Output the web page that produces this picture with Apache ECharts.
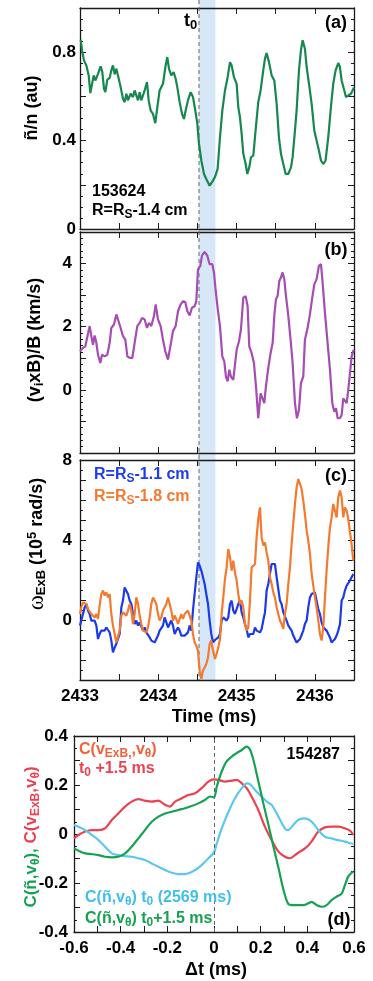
<!DOCTYPE html>
<html><head><meta charset="utf-8">
<script src="https://cdn.jsdelivr.net/npm/echarts@6/dist/echarts.min.js"></script>
<style>html,body{margin:0;padding:0;background:#fff}#c{width:373px;height:981px}</style>
</head><body><div id="c"></div>
<script>
// ---------- DATA ----------
// Panel (a): density fluctuation, shot 153624
const tA = [2433.009,2433.026,2433.051,2433.081,2433.111,2433.132,2433.153,2433.175,2433.196,2433.230,2433.264,2433.285,2433.307,2433.324,2433.349,2433.379,2433.400,2433.421,2433.443,2433.464,2433.485,2433.519,2433.549,2433.570,2433.592,2433.613,2433.647,2433.677,2433.698,2433.741,2433.762,2433.783,2433.826,2433.856,2433.877,2433.903,2433.932,2433.962,2433.988,2434.017,2434.060,2434.094,2434.115,2434.137,2434.166,2434.196,2434.222,2434.243,2434.273,2434.303,2434.328,2434.350,2434.379,2434.413,2434.443,2434.473,2434.499,2434.520,2434.550,2434.584,2434.613,2434.656,2434.699,2434.724,2434.758,2434.788,2434.818,2434.852,2434.886,2434.916,2434.937,2434.967,2435.001,2435.022,2435.043,2435.065,2435.086,2435.116,2435.137,2435.162,2435.184,2435.214,2435.243,2435.277,2435.307,2435.341,2435.363,2435.384,2435.414,2435.448,2435.482,2435.512,2435.541,2435.567,2435.597,2435.627,2435.661,2435.695,2435.716,2435.746,2435.767,2435.797,2435.822,2435.844,2435.873,2435.895,2435.925,2435.959,2435.993,2436.022,2436.052,2436.078,2436.107,2436.137,2436.171,2436.205,2436.235,2436.265,2436.299,2436.320,2436.342,2436.376,2436.397,2436.427,2436.461,2436.491,2436.500];
const nA = [0.857,0.808,0.763,0.740,0.695,0.615,0.612,0.695,0.672,0.702,0.736,0.710,0.634,0.619,0.676,0.684,0.718,0.740,0.700,0.725,0.695,0.642,0.589,0.574,0.612,0.582,0.612,0.597,0.627,0.582,0.619,0.582,0.627,0.665,0.582,0.536,0.521,0.479,0.551,0.627,0.657,0.740,0.778,0.725,0.695,0.710,0.680,0.642,0.574,0.521,0.498,0.536,0.582,0.619,0.597,0.536,0.476,0.385,0.310,0.249,0.226,0.196,0.219,0.235,0.272,0.415,0.536,0.627,0.687,0.755,0.740,0.687,0.657,0.551,0.506,0.430,0.340,0.294,0.249,0.279,0.325,0.332,0.446,0.574,0.627,0.718,0.771,0.796,0.755,0.695,0.672,0.566,0.415,0.340,0.294,0.249,0.249,0.279,0.325,0.446,0.536,0.718,0.808,0.854,0.816,0.733,0.657,0.566,0.446,0.400,0.355,0.310,0.294,0.310,0.415,0.551,0.657,0.718,0.751,0.733,0.672,0.627,0.597,0.604,0.612,0.634,0.640];

// Panel (b): (v_i x B)/B
const tB = [2433.000,2433.038,2433.068,2433.123,2433.145,2433.166,2433.187,2433.209,2433.230,2433.260,2433.281,2433.315,2433.349,2433.379,2433.400,2433.434,2433.464,2433.485,2433.519,2433.549,2433.579,2433.605,2433.634,2433.668,2433.698,2433.732,2433.762,2433.792,2433.826,2433.856,2433.881,2433.911,2433.945,2433.966,2433.996,2434.030,2434.060,2434.090,2434.124,2434.158,2434.188,2434.222,2434.252,2434.286,2434.316,2434.345,2434.371,2434.401,2434.430,2434.464,2434.486,2434.507,2434.537,2434.558,2434.592,2434.626,2434.656,2434.690,2434.711,2434.735,2434.760,2434.788,2434.818,2434.843,2434.864,2434.886,2434.907,2434.928,2434.958,2434.979,2435.001,2435.031,2435.056,2435.086,2435.116,2435.141,2435.162,2435.192,2435.222,2435.248,2435.277,2435.307,2435.329,2435.354,2435.375,2435.405,2435.435,2435.461,2435.482,2435.503,2435.524,2435.546,2435.567,2435.588,2435.610,2435.631,2435.661,2435.690,2435.716,2435.746,2435.771,2435.797,2435.822,2435.852,2435.873,2435.907,2435.937,2435.967,2435.993,2436.022,2436.052,2436.078,2436.099,2436.129,2436.159,2436.193,2436.223,2436.248,2436.270,2436.291,2436.320,2436.342,2436.363,2436.384,2436.406,2436.427,2436.448,2436.470,2436.495];
const vB = [1.22,1.33,1.38,2.02,1.70,1.43,1.72,1.49,1.11,0.85,1.11,1.06,1.11,1.49,1.96,2.07,2.39,2.23,1.96,1.70,1.59,1.06,1.01,1.01,1.49,2.02,2.12,2.28,2.23,1.96,2.12,2.02,2.34,2.71,2.23,2.02,1.59,1.22,0.96,1.43,1.86,2.02,2.49,2.71,2.81,2.78,2.49,2.36,2.60,2.65,2.81,3.82,3.93,4.25,4.37,4.25,3.98,3.98,3.72,3.10,2.55,2.02,1.06,0.90,0.42,0.27,0.64,0.42,0.32,0.37,1.27,1.54,1.91,2.92,2.97,2.65,1.38,1.17,0.85,0.11,-0.90,-0.11,-0.05,-0.42,0.11,0.69,1.17,1.49,2.34,2.87,2.97,3.45,3.56,3.72,3.50,2.97,2.34,1.59,0.85,-0.42,-0.90,-0.64,0.21,0.42,1.59,1.96,2.39,2.92,3.34,3.50,3.93,3.98,3.40,2.44,1.59,0.64,-0.42,-0.69,-0.58,-0.90,-0.90,-0.80,-0.27,-0.27,-0.42,0.00,0.00,1.06,1.27];

// Panel (c): omega_ExB at two radii
const tC = [2433.000,2433.017,2433.038,2433.060,2433.081,2433.102,2433.123,2433.145,2433.166,2433.187,2433.209,2433.230,2433.251,2433.272,2433.294,2433.315,2433.336,2433.358,2433.379,2433.400,2433.421,2433.443,2433.464,2433.485,2433.507,2433.528,2433.549,2433.570,2433.592,2433.613,2433.634,2433.656,2433.677,2433.698,2433.719,2433.741,2433.762,2433.783,2433.805,2433.826,2433.847,2433.868,2433.890,2433.911,2433.932,2433.954,2433.975,2433.996,2434.017,2434.039,2434.060,2434.081,2434.103,2434.124,2434.145,2434.166,2434.188,2434.209,2434.230,2434.252,2434.273,2434.294,2434.315,2434.337,2434.358,2434.379,2434.401,2434.422,2434.443,2434.464,2434.486,2434.507,2434.528,2434.550,2434.571,2434.592,2434.613,2434.635,2434.656,2434.677,2434.699,
2434.724,2434.745,2434.767,2434.788,2434.809,2434.830,2434.852,2434.873,2434.894,2434.916,2434.937,2434.958,2434.979,2435.001,2435.022,2435.043,2435.065,2435.086,2435.107,2435.128,2435.150,2435.171,2435.192,2435.214,2435.235,2435.256,2435.277,2435.299,2435.320,2435.341,2435.363,2435.384,2435.405,2435.426,2435.448,2435.469,2435.490,2435.512,2435.533,2435.554,2435.575,2435.597,2435.618,2435.639,2435.661,2435.682,2435.703,2435.724,2435.746,2435.767,2435.788,2435.810,2435.831,2435.852,2435.873,2435.895,2435.916,2435.937,2435.959,2435.980,2436.001,2436.022,2436.044,2436.065,2436.086,2436.108,2436.129,2436.150,2436.171,2436.193,2436.214,2436.235,2436.257,2436.278,2436.299,2436.321,2436.342,2436.363,2436.384,2436.406,2436.427,2436.448,2436.469,2436.491];
const wBlue = [-0.28,-0.03,0.30,0.63,0.80,0.47,0.30,-0.03,-0.12,-0.03,-0.28,-0.95,-0.70,-0.53,-0.53,-0.53,-0.37,-0.50,-0.62,-1.03,-1.62,-1.37,-1.20,-1.20,-0.70,0.63,0.97,1.63,1.72,1.30,0.97,0.80,0.30,-0.20,-0.03,-0.28,-0.12,-0.20,-0.53,-0.37,-0.62,-0.70,-0.87,-1.03,-0.95,-1.12,-0.95,-0.78,-0.53,-0.45,-0.28,0.13,-0.12,-0.37,-0.20,-0.03,-0.28,-0.70,-0.53,-0.37,-0.53,-0.78,-0.87,-0.78,-0.87,-0.62,-0.28,-0.53,0.47,1.30,2.13,2.88,2.72,2.47,2.38,1.80,1.30,0.80,-0.03,-0.70,-1.12,
-1.00,-0.95,-0.87,-0.70,-0.03,0.13,0.05,-0.03,0.13,0.80,0.97,0.47,0.30,0.55,0.80,0.97,0.38,0.13,-0.20,-0.45,-0.87,-0.70,-0.78,-0.70,-0.37,-0.53,-0.45,-0.62,-0.45,-0.03,0.38,1.47,1.80,2.30,2.80,2.72,2.80,2.13,1.55,0.97,0.80,0.38,0.47,-0.03,-0.28,-0.37,-0.53,-0.78,-0.87,-1.12,-1.20,-0.95,-0.95,-0.53,-0.20,-0.03,0.63,1.13,1.30,1.30,1.38,0.97,0.55,0.30,-0.12,-0.37,-0.28,-0.53,-0.70,-0.87,-1.12,-1.03,-0.95,-0.78,-0.53,-0.20,0.97,1.13,1.47,1.72,1.80,1.97,2.05,2.30];
const wOrange = [0.30,0.63,0.88,0.97,0.80,0.55,0.47,0.30,0.38,0.13,0.30,0.05,0.72,1.30,1.47,1.22,1.38,1.13,1.30,0.30,-0.28,-0.70,-1.12,-1.03,-0.53,0.22,0.38,0.30,0.22,0.47,0.80,0.47,-0.20,0.30,1.13,0.80,0.22,-0.20,-0.53,-0.45,-0.62,-0.37,0.13,0.80,1.13,1.22,0.80,0.30,-0.03,0.13,0.47,0.38,0.80,1.13,1.22,0.47,-0.03,0.22,0.05,-0.20,0.05,0.30,0.05,0.30,0.38,0.47,0.38,-0.03,-0.70,-1.12,-1.28,-1.53,-2.53,-2.95,-2.53,-2.37,-2.20,-1.87,-1.20,-1.03,-1.53,
-1.95,-1.70,-1.37,-0.95,0.30,1.13,2.05,2.63,3.55,3.13,2.47,2.97,2.38,1.97,1.30,0.80,0.97,0.63,-0.20,-0.53,-0.37,0.97,2.63,2.72,2.80,4.13,5.05,5.63,4.13,3.72,3.88,3.38,2.97,2.13,1.80,1.38,1.13,0.63,0.30,-0.03,-0.20,-0.45,0.30,0.80,1.80,2.63,3.80,4.80,5.80,6.63,7.05,7.05,6.55,5.97,5.30,4.47,3.97,3.30,2.30,1.72,1.13,0.63,-0.03,-0.70,-1.03,-0.37,1.13,2.47,3.63,4.63,5.13,5.80,5.72,5.13,6.13,6.47,6.13,5.13,5.63,5.47,5.05,4.97,3.80,2.97];

// Panel (d): correlations vs time lag (shot 154287)
const dtRed = [-0.600,-0.581,-0.552,-0.524,-0.495,-0.467,-0.438,-0.410,-0.381,-0.353,-0.324,-0.296,-0.267,-0.238,-0.210,-0.188,-0.167,-0.138,-0.110,-0.081,-0.053,-0.024,0.000,0.019,0.047,0.076,0.097,0.119,0.140,0.161,0.190,0.218,0.247,0.276,0.304,0.326,0.347,0.368,0.390,0.418,0.447,0.475,0.504,0.532,0.561,0.583,0.597];
const cRed = [-0.018,-0.004,0.010,0.016,0.016,0.023,0.057,0.084,0.112,0.132,0.142,0.136,0.132,0.136,0.119,0.112,0.132,0.146,0.159,0.166,0.187,0.214,0.223,0.221,0.214,0.218,0.221,0.207,0.187,0.153,0.098,0.030,-0.025,-0.072,-0.093,-0.099,-0.086,-0.072,-0.059,-0.031,0.010,0.027,0.030,0.030,0.023,0.014,-0.004];
const dtCyan = [-0.600,-0.581,-0.552,-0.524,-0.495,-0.467,-0.438,-0.410,-0.381,-0.353,-0.324,-0.296,-0.267,-0.238,-0.210,-0.181,-0.153,-0.124,-0.103,-0.081,-0.053,-0.024,0.000,0.012,0.033,0.062,0.090,0.119,0.140,0.154,0.176,0.204,0.226,0.247,0.276,0.304,0.318,0.340,0.361,0.383,0.404,0.425,0.447,0.475,0.504,0.532,0.561,0.583,0.597];
const cCyan = [0.037,0.030,0.016,-0.004,-0.025,-0.052,-0.079,-0.086,-0.090,-0.093,-0.099,-0.106,-0.120,-0.134,-0.147,-0.158,-0.164,-0.164,-0.158,-0.147,-0.127,-0.099,-0.075,-0.038,0.023,0.091,0.146,0.187,0.207,0.204,0.180,0.153,0.132,0.119,0.071,0.023,0.016,0.037,0.057,0.064,0.060,0.044,0.016,-0.011,-0.018,-0.025,-0.031,-0.038,-0.041];
const dtGreen = [-0.600,-0.581,-0.552,-0.524,-0.495,-0.467,-0.438,-0.410,-0.381,-0.353,-0.324,-0.296,-0.267,-0.238,-0.210,-0.181,-0.153,-0.124,-0.096,-0.067,-0.039,-0.017,0.000,0.012,0.033,0.054,0.076,0.097,0.119,0.140,0.154,0.169,0.190,0.211,0.233,0.254,0.276,0.297,0.318,0.340,0.361,0.383,0.404,0.418,0.440,0.461,0.483,0.504,0.525,0.547,0.561,0.575,0.590,0.597];
const cGreen = [-0.059,-0.068,-0.079,-0.082,-0.086,-0.093,-0.095,-0.093,-0.079,-0.052,-0.018,0.016,0.050,0.071,0.084,0.091,0.098,0.105,0.114,0.125,0.139,0.153,0.150,0.194,0.255,0.296,0.316,0.330,0.343,0.357,0.345,0.302,0.215,0.127,0.039,-0.049,-0.137,-0.225,-0.285,-0.290,-0.290,-0.290,-0.283,-0.277,-0.290,-0.297,-0.290,-0.270,-0.256,-0.243,-0.209,-0.174,-0.158,-0.154];

// Shaded interval starting at t0 (ms) and the lag-zero line
const t0Band = [2434.52, 2434.73];
const lagZero = [0];

// Axis ranges / tick labels
const timeRange = [2433, 2436.5];
const yRangeA = [0, 1.0], yRangeB = [-2, 5], yRangeC = [-3, 8], yRangeD = [-0.4, 0.4], xRangeD = [-0.6, 0.6];
const labelsA = ['0','0.4','0.8'], labelsB = ['0','2','4'], labelsC = ['0','4','8'];
const labelsD = ['-0.4','-0.2','0','0.2','0.4'], labelsDx = ['-0.6','-0.4','-0.2','0','0.2','0.4','0.6'];
const labelsT = ['2433','2434','2435','2436'];

// ---------- STYLE ----------
const FF = '"Liberation Sans Narrow","Liberation Sans",Arial,sans-serif';
const AX = '#1a1a1a';
const TICK = 17, TITLE = 18, ANN = 16, SUB = 12;
const zip = (a, b) => a.map((v, i) => [v, b[i]]);
const fmtNum = v => { const r = Math.round(v * 1000) / 1000; return Object.is(r, -0) ? '0' : String(r); };
const pick = list => v => { const s = fmtNum(v); return list.indexOf(s) >= 0 ? s : ''; };

function xAx(grid, range, interval, pos, labels) {
  return {
    gridIndex: grid, type: 'value', position: pos, min: range[0], max: range[1], interval,
    axisLine: { show: true, onZero: false, lineStyle: { color: AX, width: 1.3 } },
    axisTick: { show: true, inside: true, length: 6, lineStyle: { color: AX, width: 1 } },
    minorTick: { show: false }, splitLine: { show: false }, minorSplitLine: { show: false },
    axisLabel: labels ? { show: true, formatter: pick(labels), color: '#000', fontFamily: FF, fontWeight: 'bold', fontSize: TICK, margin: 8, showMinLabel: true, showMaxLabel: true } : { show: false }
  };
}
function yAx(grid, range, interval, minor, pos, labels, margin) {
  return {
    gridIndex: grid, type: 'value', position: pos, min: range[0], max: range[1], interval,
    axisLine: { show: true, onZero: false, lineStyle: { color: AX, width: 1.3 } },
    axisTick: { show: true, inside: true, length: 6, lineStyle: { color: AX, width: 1 } },
    minorTick: { show: true, splitNumber: minor, length: 3, lineStyle: { color: AX, width: 1 } },
    splitLine: { show: false }, minorSplitLine: { show: false },
    axisLabel: labels ? { show: true, formatter: pick(labels), color: '#000', fontFamily: FF, fontWeight: 'bold', fontSize: TICK, margin: margin, showMinLabel: true, showMaxLabel: true } : { show: false }
  };
}

const chart = echarts.init(document.getElementById('c'), null, { renderer: 'canvas' });

const line = (xi, data, color, extra) => Object.assign({
  type: 'line', xAxisIndex: xi, yAxisIndex: xi, data, showSymbol: false, symbol: 'none',
  lineStyle: { color, width: 2.2 }, itemStyle: { color }, animation: false, z: 3
}, extra || {});

chart.setOption({
  animation: false,
  backgroundColor: '#fff',
  grid: [
    { left: 80, width: 274, top: 8, height: 221, outerBoundsMode: 'none', containLabel: false },
    { left: 80, width: 274, top: 232, height: 221, outerBoundsMode: 'none', containLabel: false },
    { left: 80, width: 274, top: 460, height: 220, outerBoundsMode: 'none', containLabel: false },
    { left: 74, width: 280, top: 736, height: 196, outerBoundsMode: 'none', containLabel: false }
  ],
  xAxis: [
    xAx(0, timeRange, 0.5, 'bottom', null),
    xAx(1, timeRange, 0.5, 'bottom', null),
    xAx(2, timeRange, 0.5, 'bottom', labelsT),
    xAx(3, xRangeD, 0.1, 'bottom', labelsDx),
    xAx(0, timeRange, 0.5, 'top', null),
    xAx(1, timeRange, 0.5, 'top', null),
    xAx(2, timeRange, 0.5, 'top', null),
    xAx(3, xRangeD, 0.1, 'top', null)
  ],
  yAxis: [
    yAx(0, yRangeA, 0.2, 4, 'left', labelsA, 4),
    yAx(1, yRangeB, 1, 5, 'left', labelsB, 8),
    yAx(2, yRangeC, 1, 2, 'left', labelsC, 8),
    yAx(3, yRangeD, 0.1, 2, 'left', labelsD, 6),
    yAx(0, yRangeA, 0.2, 4, 'right', null),
    yAx(1, yRangeB, 1, 5, 'right', null),
    yAx(2, yRangeC, 1, 2, 'right', null),
    yAx(3, yRangeD, 0.1, 2, 'right', null)
  ],
  series: [
    line(0, zip(tA, nA), '#16874e'),
    line(1, zip(tB, vB), '#a54db3'),
    line(2, zip(tC, wBlue), '#1c3ae8'),
    line(2, zip(tC, wOrange), '#f47a2f'),
    line(3, zip(dtRed, cRed), '#ec4150', { smooth: 0.3, markLine: {
      silent: true, symbol: 'none', label: { show: false },
      lineStyle: { color: '#666', width: 1, type: [4, 3] },
      data: lagZero.map(v => ({ xAxis: v }))
    } }),
    line(3, zip(dtCyan, cCyan), '#5cc8ee', { smooth: 0.3 }),
    line(3, zip(dtGreen, cGreen), '#17a153', { smooth: 0.3 })
  ]
});

// ---------- TEXT + BAND ----------
function rich(color, size, sub) {
  return {
    m: { fontFamily: FF, fontWeight: 'bold', fontSize: size, fill: color, lineHeight: size + 4 },
    s: { fontFamily: FF, fontWeight: 'bold', fontSize: sub, fill: color, verticalAlign: 'bottom', lineHeight: sub - 3 },
    p: { fontFamily: FF, fontWeight: 'bold', fontSize: sub, fill: color, verticalAlign: 'top', lineHeight: sub - 3 },
    w: { fontFamily: '"Liberation Serif","DejaVu Serif",serif', fontWeight: 'normal', fontSize: size + 5, fill: color, lineHeight: size + 4 }
  };
}
function txt(x, y, text, color, size, sub, align, rot) {
  return {
    type: 'text', x, y, rotation: rot || 0, z: 50, silent: true,
    style: { text, rich: rich(color, size, sub), align: align || 'left', verticalAlign: 'middle' }
  };
}

const xb0 = chart.convertToPixel({ xAxisIndex: 0 }, t0Band[0]);
const xb1 = chart.convertToPixel({ xAxisIndex: 0 }, t0Band[1]);
const yBot = chart.convertToPixel({ yAxisIndex: 2 }, yRangeC[0]);

const G = [
  { type: 'rect', z: -1, silent: true, shape: { x: xb0, y: 0, width: xb1 - xb0, height: yBot }, style: { fill: '#d6e8f8' } },
  { type: 'line', z: 1, silent: true, shape: { x1: xb0, y1: 0, x2: xb0, y2: yBot }, style: { stroke: '#666', lineWidth: 1, lineDash: [4, 3] } },
  // panel (a)
  txt(184, 21, '{m|t}{s|0}', '#000', 18, 13),
  txt(336, 23, '{m|(a)}', '#000', 18, 13, 'center'),
  txt(92, 192, '{m|153624}', '#000', ANN, SUB),
  txt(92, 211, '{m|R=R}{s|S}{m|-1.4 cm}', '#000', ANN, SUB),
  txt(32, 108, '{m|ñ/n (au)}', '#000', TITLE, 13, 'center', Math.PI / 2),
  // panel (b)
  txt(336, 250, '{m|(b)}', '#000', 18, 13, 'center'),
  txt(35, 340, '{m|(v}{s|i}{m|xB)/B (km/s)}', '#000', TITLE, 13, 'center', Math.PI / 2),
  // panel (c)
  txt(336, 476, '{m|(c)}', '#000', 18, 13, 'center'),
  txt(94, 475, '{m|R=R}{s|S}{m|-1.1 cm}', '#1b3cf0', ANN, SUB),
  txt(94, 497, '{m|R=R}{s|S}{m|-1.8 cm}', '#f47a2f', ANN, SUB),
  txt(37, 544, '{w|ω}{s|ExB}{m| (10}{p|5}{m| rad/s)}', '#000', TITLE, 13, 'center', Math.PI / 2),
  txt(214, 717, '{m|Time (ms)}', '#000', TITLE, 13, 'center'),
  // panel (d)
  txt(79, 750, '{m|C(v}{s|ExB,}{m|,v}{s|θ}{m|)}', '#f2623c', ANN, SUB),
  txt(79, 769, '{m|t}{s|0}{m| +1.5 ms}', '#ea4250', ANN, SUB),
  txt(340, 755, '{m|154287}', '#000', ANN, SUB, 'right'),
  txt(85, 898, '{m|C(ñ,v}{s|θ}{m|) t}{s|0}{m| (2569 ms)}', '#3fbfea', ANN, SUB),
  txt(85, 919, '{m|C(ñ,v}{s|θ}{m|) t}{s|0}{m|+1.5 ms}', '#17a153', ANN, SUB),
  txt(339, 920, '{m|(d)}', '#000', 18, 13, 'center'),
  txt(216, 970, '{m|Δt (ms)}', '#000', TITLE, 13, 'center'),
  {
    type: 'text', x: 31, y: 837, rotation: Math.PI / 2, z: 50, silent: true,
    style: {
      text: '{g|C(ñ,v}{gs|θ}{g|), }{r|C(v}{rs|ExB}{r|,v}{rs|θ}{r|)}',
      align: 'center', verticalAlign: 'middle',
      rich: {
        g: { fontFamily: FF, fontWeight: 'bold', fontSize: 17, fill: '#17a153', lineHeight: 21 },
        gs: { fontFamily: FF, fontWeight: 'bold', fontSize: 12, fill: '#17a153', verticalAlign: 'bottom', lineHeight: 10 },
        r: { fontFamily: FF, fontWeight: 'bold', fontSize: 17, fill: '#ee3f4f', lineHeight: 21 },
        rs: { fontFamily: FF, fontWeight: 'bold', fontSize: 12, fill: '#ee3f4f', verticalAlign: 'bottom', lineHeight: 10 }
      }
    }
  }
];
chart.setOption({ graphic: G });
</script>
</body></html>
